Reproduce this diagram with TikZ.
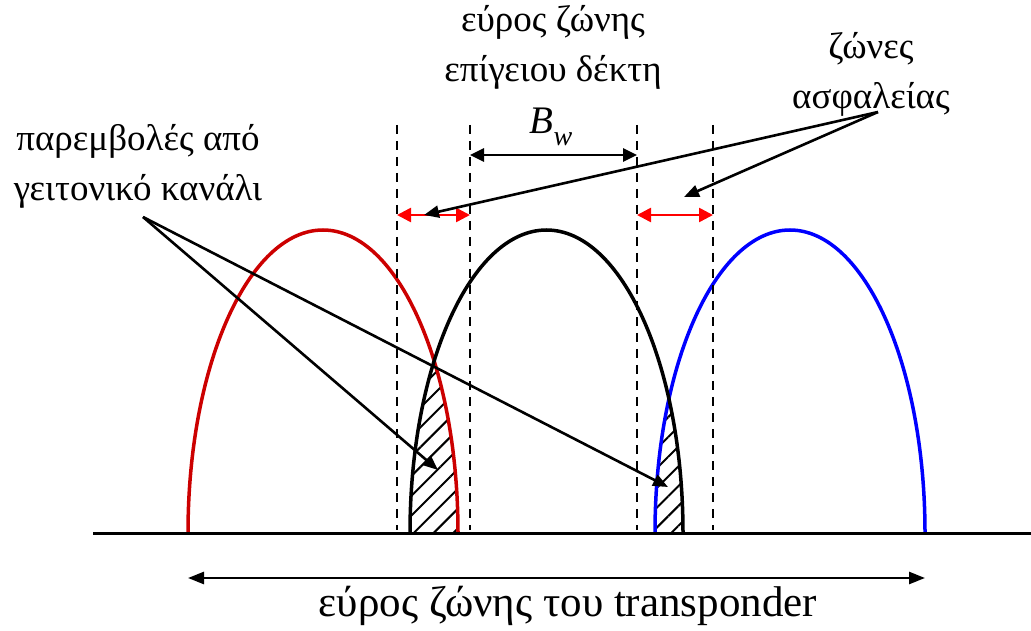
\documentclass[tikz,border=0pt]{standalone}
\usepackage{fontspec}
\setmainfont{Liberation Serif}
\usetikzlibrary{arrows.meta, patterns.meta}
\definecolor{CurveRed}{RGB}{204, 0, 0}

\begin{document}
\begin{tikzpicture}[x=1pt, y=1pt,
    % --- Styles ---
    % spectrum arches
    arch/.style={line width=3.5pt},
    % dashed band limits
    limit-line/.style={dashed, line width=2.8pt, dash pattern=on 9pt off 7pt},
    % dimension arrows
    dim-arrow/.style={{Triangle[length=14pt, width=13pt]}-{Triangle[length=14pt, width=13pt]}, line width=2.6pt},
    guard-arrow/.style={dim-arrow, draw=red, {Triangle[length=14pt, width=14pt]}-{Triangle[length=14pt, width=14pt]}},
    % pointers from the labels
    pointer/.style={-{Triangle[length=15pt, width=12pt]}, line width=2.6pt},
    label-text/.style={font=\fontsize{37}{50}\selectfont, align=center, inner sep=0pt},
    hatch/.style={pattern={Lines[angle=45, distance=14pt, line width=2pt]}}
]
\useasboundingbox (0,0) rectangle (1031,630);

% --- Hatched overlap regions ---
\begin{scope}
    \clip (188,97) arc[start angle=180, end angle=0, x radius=135, y radius=303] -- cycle;
    \fill[hatch] (410,97) arc[start angle=180, end angle=0, x radius=136.5, y radius=303] -- cycle;
\end{scope}
\begin{scope}
    \clip (655,97) arc[start angle=180, end angle=0, x radius=135, y radius=303] -- cycle;
    \fill[hatch] (410,97) arc[start angle=180, end angle=0, x radius=136.5, y radius=303] -- cycle;
\end{scope}

% --- Channels ---
\draw[arch, CurveRed] (188,97) arc[start angle=180, end angle=0, x radius=135, y radius=303];
\draw[arch, blue] (655,97) arc[start angle=180, end angle=0, x radius=135, y radius=303];
\draw[arch, black] (410,97) arc[start angle=180, end angle=0, x radius=136.5, y radius=303];

% --- Frequency axis ---
\draw[line width=3pt] (93,97) -- (1031,97);

% --- Band limits ---
\foreach \x [count=\i] in {397, 470, 637, 713} {
    \coordinate (top-\i) at (\x,505);
    \coordinate (bot-\i) at (\x,100);
    \draw[limit-line] (top-\i) -- (bot-\i);
}

% --- Receiver bandwidth ---
\coordinate (bw-left) at (470,475);
\coordinate (bw-right) at (637,475);
\draw[dim-arrow] (bw-left) -- (bw-right);
\node[font=\fontsize{39}{42}\selectfont\itshape, inner sep=0pt] (bw-label) at (551,503) {B\raisebox{-0.3em}{\fontsize{28}{30}\selectfont w}};

% --- Guard bands ---
\coordinate (gl-left) at (397,415);
\coordinate (gl-right) at (470,415);
\coordinate (gr-left) at (637,415);
\coordinate (gr-right) at (713,415);
\draw[guard-arrow] (gl-left) -- (gl-right);
\draw[guard-arrow] (gr-left) -- (gr-right);

% --- Transponder bandwidth ---
\coordinate (tr-left) at (188,52);
\coordinate (tr-right) at (925,52);
\draw[dim-arrow, {Triangle[length=16pt, width=12pt]}-{Triangle[length=16pt, width=12pt]}] (tr-left) -- (tr-right);
\node[label-text, font=\fontsize{43}{50}\selectfont] (tr-label) at (568,24) {εύρος ζώνης του transponder};

% --- Labels ---
\node[label-text] (rx-label) at (553,583) {εύρος ζώνης\\επίγειου δέκτη};
\node[label-text] (guard-label) at (871,556) {ζώνες\\ασφαλείας};
\node[label-text] (adj-label) at (138,464) {παρεμβολές από\\γειτονικό κανάλι};

% --- Pointers ---
\coordinate (guard-src) at (878,518);
\coordinate (guard-tip1) at (424,415);
\coordinate (guard-tip2) at (684,433);
\draw[pointer] (guard-src) -- (guard-tip1);
\draw[pointer] (guard-src) -- (guard-tip2);

\coordinate (adj-src) at (143,413);
\coordinate (adj-tip1) at (438,160);
\coordinate (adj-tip2) at (668,143);
\draw[pointer] (adj-src) -- (adj-tip1);
\draw[pointer] (adj-src) -- (adj-tip2);

\end{tikzpicture}
\end{document}
